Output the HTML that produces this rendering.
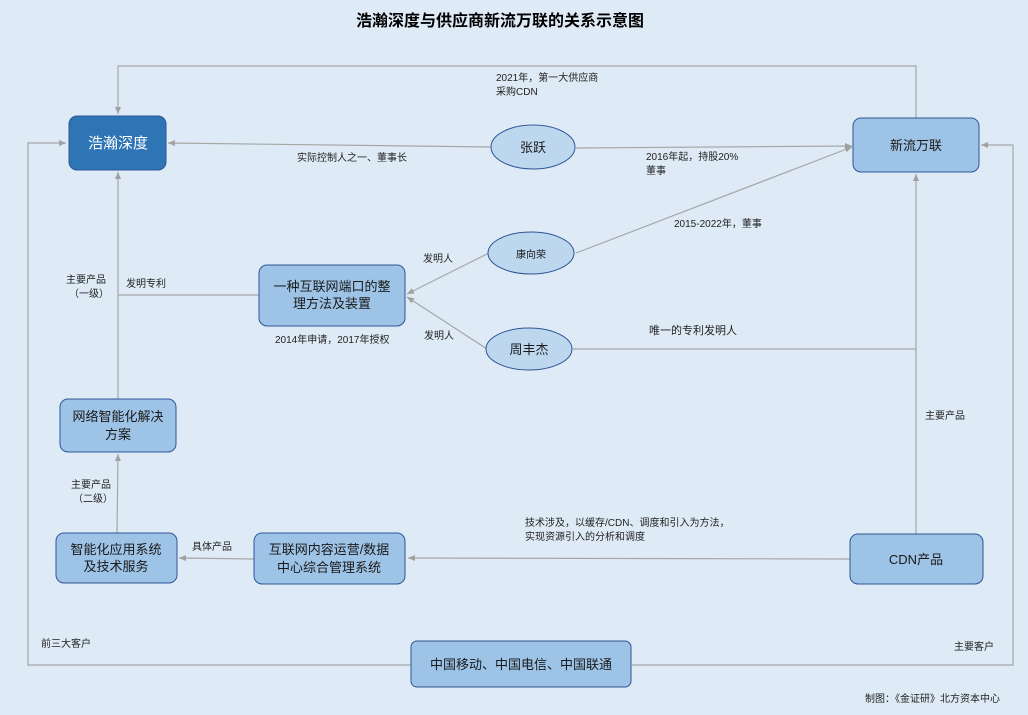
<!DOCTYPE html>
<html><head><meta charset="utf-8"><style>
body{margin:0;background:#deebf6;}
svg{display:block;font-family:"Liberation Sans","Noto Sans CJK SC",sans-serif;}
</style></head><body>
<svg width="1028" height="715" viewBox="0 0 1028 715">
<defs><marker id="a" markerWidth="8" markerHeight="8" refX="7" refY="4" orient="auto" markerUnits="userSpaceOnUse"><path d="M0,1 L7,4 L0,7z" fill="#a0a0a0"/></marker></defs>
<rect width="1028" height="715" fill="#deebf6"/>
<text x="500" y="26" font-size="16" font-weight="bold" text-anchor="middle" fill="#000">浩瀚深度与供应商新流万联的关系示意图</text>
<g stroke="#a6a6a6" stroke-width="1.2" fill="none">
<path d="M916,118 V66 H118 V114" marker-end="url(#a)"/>
<path d="M491,147 L168,143" marker-end="url(#a)"/>
<path d="M576,148 L852,146" marker-end="url(#a)"/>
<path d="M576,253 L852,147" marker-end="url(#a)"/>
<path d="M489,253 L407,294" marker-end="url(#a)"/>
<path d="M487,349 L407,297" marker-end="url(#a)"/>
<path d="M573,349 H916"/>
<path d="M916,534 V174" marker-end="url(#a)"/>
<path d="M259,295 H118"/>
<path d="M118,399 V172" marker-end="url(#a)"/>
<path d="M117,533 L118,454" marker-end="url(#a)"/>
<path d="M254,559 L179,558" marker-end="url(#a)"/>
<path d="M850,559 L408,558" marker-end="url(#a)"/>
<path d="M411,665 H28 V143 H66" marker-end="url(#a)"/>
<path d="M632,665 H1013 V145 H981" marker-end="url(#a)"/>
</g>
<g stroke="#2f5597" stroke-width="1">
<rect x="69" y="116" width="97" height="54" rx="8" fill="#2e75b6"/>
<rect x="853" y="118" width="126" height="54" rx="8" fill="#9dc3e6"/>
<rect x="259" y="265" width="146" height="61" rx="8" fill="#9dc3e6"/>
<rect x="60" y="399" width="116" height="53" rx="8" fill="#9dc3e6"/>
<rect x="56" y="533" width="121" height="50" rx="8" fill="#9dc3e6"/>
<rect x="254" y="533" width="151" height="51" rx="8" fill="#9dc3e6"/>
<rect x="850" y="534" width="133" height="50" rx="8" fill="#9dc3e6"/>
<rect x="411" y="641" width="220" height="46" rx="6" fill="#9dc3e6"/>
<ellipse cx="533" cy="147" rx="42" ry="22" fill="#bdd7ee"/>
<ellipse cx="531" cy="253" rx="43" ry="21" fill="#bdd7ee"/>
<ellipse cx="529" cy="349" rx="43" ry="21" fill="#bdd7ee"/>
</g>
<g text-anchor="middle" fill="#1a1a1a" font-size="13">
<text x="118" y="148" fill="#fff" font-size="15">浩瀚深度</text>
<text x="916" y="150">新流万联</text>
<text x="332" y="291">一种互联网端口的整</text>
<text x="332" y="308">理方法及装置</text>
<text x="118" y="421">网络智能化解决</text>
<text x="118" y="439">方案</text>
<text x="116" y="554">智能化应用系统</text>
<text x="116" y="571">及技术服务</text>
<text x="329" y="554">互联网内容运营/数据</text>
<text x="329" y="572">中心综合管理系统</text>
<text x="916" y="564">CDN产品</text>
<text x="521" y="669">中国移动、中国电信、中国联通</text>
<text x="533" y="152">张跃</text>
<text x="531" y="258" font-size="10">康向荣</text>
<text x="529" y="354">周丰杰</text>
</g>
<g fill="#222" font-size="10">
<text x="496" y="81">2021年，第一大供应商</text>
<text x="496" y="95">采购CDN</text>
<text x="297" y="161">实际控制人之一、董事长</text>
<text x="646" y="160">2016年起，持股20%</text>
<text x="646" y="174">董事</text>
<text x="674" y="227">2015-2022年，董事</text>
<text x="423" y="262">发明人</text>
<text x="424" y="339">发明人</text>
<text x="649" y="334" font-size="11">唯一的专利发明人</text>
<text x="275" y="343">2014年申请，2017年授权</text>
<text x="126" y="287">发明专利</text>
<text x="66" y="283">主要产品</text>
<text x="69" y="297">（一级）</text>
<text x="71" y="488">主要产品</text>
<text x="73" y="502">（二级）</text>
<text x="192" y="550">具体产品</text>
<text x="925" y="419">主要产品</text>
<text x="525" y="526">技术涉及，以缓存/CDN、调度和引入为方法，</text>
<text x="525" y="540">实现资源引入的分析和调度</text>
<text x="41" y="647">前三大客户</text>
<text x="954" y="650">主要客户</text>
<text x="865" y="702">制图：《金证研》北方资本中心</text>
</g>
</svg>
</body></html>
